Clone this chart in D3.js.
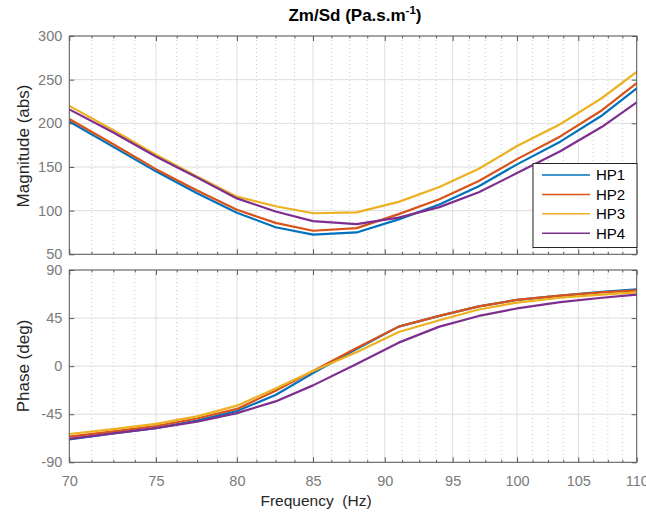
<!DOCTYPE html>
<html>
<head>
<meta charset="utf-8">
<script src="https://cdn.jsdelivr.net/npm/d3@7/dist/d3.min.js"></script>
<style>
  body { margin: 0; background: #fff; }
  svg text { font-family: "Liberation Sans", Arial, Helvetica, sans-serif; }
</style>
</head>
<body>
<div id="chart"></div>
<script>
var freqs = [70, 72.5, 75, 77.5, 80, 82.5, 85, 88, 91, 94, 97, 100, 103.5, 107, 110];

// magnitude (abs)
var magHP1 = [202, 173, 145, 120, 97.5, 81, 72.5, 75, 90, 107, 128, 153, 179, 209, 240];
var magHP2 = [205, 176, 147.5, 123, 101, 86, 77, 80, 96, 113, 134, 159, 185, 215, 246];
var magHP3 = [220, 192, 164, 139, 116, 105, 97, 98, 110, 127, 148, 174, 199, 229, 259];
var magHP4 = [216, 189.5, 162, 138, 114, 99, 88, 84.5, 92, 104, 121, 143, 168, 196, 224];

// phase (deg)
var phHP1 = [-68.5, -63, -58, -51, -42, -27, -6.5, 16, 37, 47, 56, 62, 66, 69.5, 72];
var phHP2 = [-66, -61, -56, -49, -40, -23, -4.5, 17, 37, 47, 56, 62, 66, 69, 71];
var phHP3 = [-63.5, -59, -54, -47, -37, -21, -4.5, 13, 32, 43, 53, 59.5, 64, 67, 69];
var phHP4 = [-68, -63, -58, -52, -44, -33, -18, 2, 22, 37, 47, 54, 60, 64, 67];

var seriesNames = ["HP1", "HP2", "HP3", "HP4"];
var seriesColors = ["#0072BD", "#D95319", "#EDB120", "#7E2F8E"];

var freqTicks = [70, 75, 80, 85, 90, 95, 100, 105, 110];
var magTicks = [50, 100, 150, 200, 250, 300];
var phaseTicks = [-90, -45, 0, 45, 90];

var width = 646, height = 518;

var svg = d3.select("#chart").append("svg")
    .attr("width", width)
    .attr("height", height);

// log frequency axis shared by both panels
var x = d3.scaleLog().domain([70, 110]).range([69.3, 636.7]);

// minor ticks: 4 subdivisions between major ticks
var freqMinor = [];
for (var i = 0; i < freqTicks.length - 1; ++i) {
  var step = (freqTicks[i + 1] - freqTicks[i]) / 4;
  for (var k = 1; k < 4; ++k) freqMinor.push(freqTicks[i] + k * step);
}

var axisColor = "#5a5a5a";
var tickTextColor = "#7a7a7a";
// plain hyphen for negatives, like the original
var plainFormat = function(d) { return String(d); };

function drawPanel(top, bottom, domain, yTicks, seriesData, showXLabels) {
  var y = d3.scaleLinear().domain(domain).range([bottom, top]);
  var left = x.range()[0], right = x.range()[1];
  var g = svg.append("g");

  // minor grid (vertical dotted)
  g.append("g").selectAll("line")
      .data(freqMinor)
      .enter().append("line")
      .attr("x1", function(d) { return x(d); })
      .attr("x2", function(d) { return x(d); })
      .attr("y1", top).attr("y2", bottom)
      .attr("stroke", "#c8c8c8")
      .attr("stroke-width", 1)
      .attr("stroke-dasharray", "1,3");

  // major grid
  g.append("g").selectAll("line")
      .data(freqTicks)
      .enter().append("line")
      .attr("x1", function(d) { return x(d); })
      .attr("x2", function(d) { return x(d); })
      .attr("y1", top).attr("y2", bottom)
      .attr("stroke", "#dedede");
  g.append("g").selectAll("line")
      .data(yTicks)
      .enter().append("line")
      .attr("x1", left).attr("x2", right)
      .attr("y1", function(d) { return y(d); })
      .attr("y2", function(d) { return y(d); })
      .attr("stroke", "#dedede");

  // curves
  var line = d3.line()
      .x(function(d) { return x(d[0]); })
      .y(function(d) { return y(d[1]); });
  seriesData.forEach(function(vals, s) {
    g.append("path")
        .datum(freqs.map(function(f, j) { return [f, vals[j]]; }))
        .attr("fill", "none")
        .attr("stroke", seriesColors[s])
        .attr("stroke-width", 2.2)
        .attr("stroke-linejoin", "round")
        .attr("d", line);
  });

  // axes, ticks pointing inward on all four sides
  var bottomAxis = d3.axisBottom(x).tickValues(freqTicks).tickSize(-5).tickPadding(13)
      .tickFormat(showXLabels ? plainFormat : "");
  var gb = g.append("g").attr("transform", "translate(0," + bottom + ")").call(bottomAxis);
  var gt = g.append("g").attr("transform", "translate(0," + top + ")")
      .call(d3.axisTop(x).tickValues(freqTicks).tickSize(-5).tickFormat(""));
  var gbm = g.append("g").attr("transform", "translate(0," + bottom + ")")
      .call(d3.axisBottom(x).tickValues(freqMinor).tickSize(-2.5).tickFormat(""));
  var gtm = g.append("g").attr("transform", "translate(0," + top + ")")
      .call(d3.axisTop(x).tickValues(freqMinor).tickSize(-2.5).tickFormat(""));
  var gl = g.append("g").attr("transform", "translate(" + left + ",0)")
      .call(d3.axisLeft(y).tickValues(yTicks).tickSize(-5).tickPadding(7).tickFormat(plainFormat));
  var gr = g.append("g").attr("transform", "translate(" + right + ",0)")
      .call(d3.axisRight(y).tickValues(yTicks).tickSize(-5).tickFormat(""));

  [gb, gt, gbm, gtm, gl, gr].forEach(function(a) {
    a.select(".domain").remove();
    a.selectAll("line").attr("stroke", axisColor);
    a.selectAll("text").attr("fill", tickTextColor).style("font-size", "14.5px");
  });

  // box
  g.append("rect")
      .attr("x", left).attr("y", top)
      .attr("width", right - left).attr("height", bottom - top)
      .attr("fill", "none")
      .attr("stroke", axisColor)
      .attr("stroke-width", 1);

  return y;
}

drawPanel(36, 254.3, [50, 300], magTicks, [magHP1, magHP2, magHP3, magHP4], false);
drawPanel(270, 462.3, [-90, 90], phaseTicks, [phHP1, phHP2, phHP3, phHP4], true);

// title with superscript
var title = svg.append("text")
    .attr("x", 355).attr("y", 21)
    .attr("text-anchor", "middle")
    .attr("fill", "#000")
    .style("font-size", "17px")
    .style("font-weight", "bold");
title.append("tspan").text("Zm/Sd (Pa.s.m");
title.append("tspan").attr("dy", -7).style("font-size", "11.5px").text("-1");
title.append("tspan").attr("dy", 7).text(")");

// axis labels
svg.append("text")
    .attr("x", 316).attr("y", 506)
    .attr("text-anchor", "middle")
    .attr("fill", "#262626")
    .style("font-size", "15.5px")
    .style("white-space", "pre")
    .text("Frequency  (Hz)");

svg.append("text")
    .attr("transform", "translate(29,146) rotate(-90)")
    .attr("text-anchor", "middle")
    .attr("fill", "#262626")
    .style("font-size", "17px")
    .text("Magnitude (abs)");

svg.append("text")
    .attr("transform", "translate(29,366) rotate(-90)")
    .attr("text-anchor", "middle")
    .attr("fill", "#262626")
    .style("font-size", "17px")
    .text("Phase (deg)");

// legend
var legend = svg.append("g").attr("transform", "translate(533,163.5)");
legend.append("rect")
    .attr("width", 104).attr("height", 84)
    .attr("fill", "#fff")
    .attr("stroke", "#262626")
    .attr("stroke-width", 1);
var rows = legend.selectAll("g.row")
    .data(seriesNames)
    .enter().append("g")
    .attr("class", "row")
    .attr("transform", function(d, i) { return "translate(0," + (11.5 + i * 19.4) + ")"; });
rows.append("line")
    .attr("x1", 9).attr("x2", 57)
    .attr("stroke", function(d, i) { return seriesColors[i]; })
    .attr("stroke-width", 1.5);
rows.append("text")
    .attr("x", 63).attr("dy", "0.36em")
    .attr("fill", "#000")
    .style("font-size", "15px")
    .text(function(d) { return d; });
</script>
</body>
</html>
